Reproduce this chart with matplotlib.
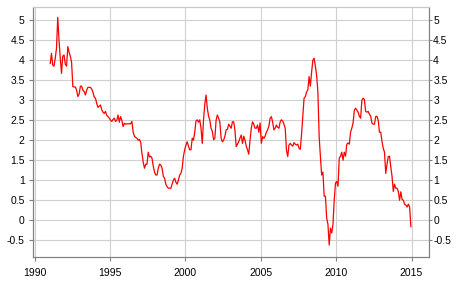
import numpy as np
import matplotlib
matplotlib.use("Agg")
import matplotlib.pyplot as plt

# Monatswerte, Jan 1991 bis Dez 2014
start_year = 1991
values = [
    3.92, 4.17, 3.88, 3.85, 4.05, 4.3, 5.07, 4.5, 4.05, 3.67, 4.1, 4.13,     # 1991
    3.9, 3.85, 4.34, 4.2, 4.1, 3.95, 3.34, 3.33, 3.33, 3.25, 3.09, 3.15,     # 1992
    3.35, 3.35, 3.25, 3.22, 3.13, 3.25, 3.32, 3.32, 3.32, 3.28, 3.2, 3.08,   # 1993
    3.05, 2.92, 2.82, 2.85, 2.88, 2.76, 2.7, 2.67, 2.72, 2.62, 2.59, 2.55,   # 1994
    2.5, 2.47, 2.52, 2.55, 2.47, 2.5, 2.63, 2.45, 2.59, 2.5, 2.34, 2.42,     # 1995
    2.4, 2.41, 2.41, 2.41, 2.41, 2.47, 2.2, 2.1, 2.07, 2.05, 2.0, 2.02,      # 1996
    1.95, 1.67, 1.45, 1.3, 1.4, 1.4, 1.7, 1.58, 1.6, 1.55, 1.35, 1.2,        # 1997
    1.13, 1.13, 1.3, 1.4, 1.38, 1.3, 1.1, 1.05, 0.9, 0.84, 0.8, 0.8,         # 1998
    0.8, 0.9, 1.0, 1.05, 0.95, 0.9, 1.0, 1.13, 1.17, 1.3, 1.6, 1.76,         # 1999
    1.88, 1.96, 1.85, 1.76, 1.76, 2.05, 2.0, 2.2, 2.48, 2.51, 2.45, 2.51,    # 2000
    2.3, 1.92, 2.51, 2.9, 3.13, 2.8, 2.6, 2.5, 2.3, 2.22, 2.01, 2.05,        # 2001
    2.5, 2.63, 2.55, 2.45, 2.05, 1.96, 2.0, 2.1, 2.26, 2.27, 2.4, 2.35,      # 2002
    2.3, 2.46, 2.46, 2.25, 1.84, 1.9, 1.96, 2.05, 2.13, 1.92, 2.1, 2.0,      # 2003
    1.85, 1.76, 1.65, 2.0, 2.3, 2.46, 2.4, 2.3, 2.3, 2.38, 2.2, 2.43,        # 2004
    1.92, 2.09, 2.05, 2.1, 2.2, 2.26, 2.35, 2.55, 2.59, 2.45, 2.26, 2.3,     # 2005
    2.38, 2.32, 2.3, 2.46, 2.51, 2.48, 2.4, 2.3, 1.75, 1.59, 1.88, 1.92,     # 2006
    1.88, 1.85, 1.94, 1.9, 1.88, 1.9, 1.8, 1.77, 2.15, 2.6, 3.05, 3.09,      # 2007
    3.2, 3.26, 3.59, 3.35, 3.7, 4.0, 4.05, 3.85, 3.62, 3.2, 2.1, 1.59,       # 2008
    1.13, 1.2, 0.6, 0.6, 0.05, -0.1, -0.62, -0.2, -0.32, -0.1, 0.5, 0.93,    # 2009
    0.97, 0.85, 1.55, 1.6, 1.7, 1.5, 1.7, 1.6, 1.9, 1.93, 1.9, 2.2,          # 2010
    2.3, 2.43, 2.75, 2.8, 2.75, 2.7, 2.6, 2.55, 3.0, 3.05, 3.02, 2.72,       # 2011
    2.7, 2.72, 2.65, 2.6, 2.43, 2.4, 2.4, 2.59, 2.6, 2.5, 2.2, 2.2,          # 2012
    1.97, 1.8, 1.7, 1.17, 1.4, 1.59, 1.6, 1.33, 1.1, 0.72, 0.9, 0.8,         # 2013
    0.8, 0.72, 0.5, 0.71, 0.52, 0.5, 0.4, 0.38, 0.33, 0.4, 0.33, -0.16,      # 2014
]
x_ticks = [1990, 1995, 2000, 2005, 2010, 2015]
y_ticks = [-0.5, 0, 0.5, 1, 1.5, 2, 2.5, 3, 3.5, 4, 4.5, 5]

t = start_year + (np.arange(len(values)) + 0.5) / 12

plt.rcParams['font.family'] = ['Liberation Sans', 'DejaVu Sans']

fig = plt.figure(figsize=(4.63, 2.91), dpi=100)
ax = fig.add_axes([33 / 463, 1 - 257 / 291, (429 - 33) / 463, (257 - 7) / 291])

ax.plot(t, values, color='#ff0000', linewidth=0.9)

ax.set_xlim(1989.9, 2016.16)
ax.set_ylim(-0.92, 5.33)
ax.set_xticks(x_ticks)
ax.set_yticks(y_ticks)
ax.set_yticklabels([f"{v:g}" for v in y_ticks])
ax.grid(True, color='#d0d0d0', linewidth=0.8)
ax.set_axisbelow(True)

for side in ['left', 'right', 'bottom']:
    ax.spines[side].set_color('#808080')
ax.spines['top'].set_color('#c8c8c8')

ax.tick_params(axis='y', length=3, color='#808080', labelsize=7.5, pad=3)
ax.tick_params(axis='x', length=3, color='#808080', labelsize=7.5, pad=5)

# rechte Achse mit gleichen Werten
ax2 = ax.twinx()
ax2.set_ylim(ax.get_ylim())
ax2.set_yticks(y_ticks)
ax2.set_yticklabels([f"{v:g}" for v in y_ticks])
ax2.tick_params(axis='y', length=2, color='#808080', labelsize=7.5, pad=1)
for side in ['left', 'right', 'bottom']:
    ax2.spines[side].set_color('#808080')
ax2.spines['top'].set_color('#c8c8c8')

fig.savefig('out.png', dpi=100)
